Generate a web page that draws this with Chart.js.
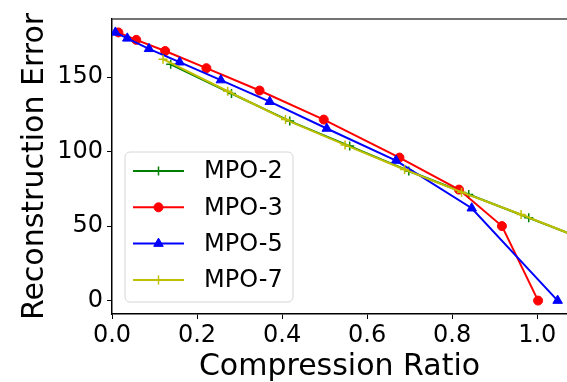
<!DOCTYPE html>
<html>
<head>
<meta charset="utf-8">
<script src="https://cdn.jsdelivr.net/npm/chart.js@4/dist/chart.umd.min.js"></script>
<style>
    body { margin: 0; background: #fff; }
    #wrap { width: 567px; height: 382px; position: relative; }
</style>
</head>
<body>
<div id="wrap"><canvas id="errChart"></canvas></div>
<script>
// Values
const mpo2X = [0.138, 0.281, 0.418, 0.559, 0.698, 0.839, 0.980, 1.120];
const mpo2Y = [158.6, 139.0, 120.5, 103.7, 87.0, 71.2, 55.6, 40.0];

const mpo3X = [0.015, 0.057, 0.125, 0.222, 0.347, 0.498, 0.676, 0.816, 0.917, 1.002];
const mpo3Y = [180, 175, 167.5, 156, 141, 121.5, 96, 74.5, 50, 0];

const mpo5X = [0.008, 0.036, 0.087, 0.159, 0.256, 0.371, 0.505, 0.668, 0.846, 1.048];
const mpo5Y = [180, 176, 169, 160, 148, 133.5, 115.5, 94, 62, 0];

const mpo7X = [0.120, 0.272, 0.408, 0.548, 0.688, 0.822, 0.962, 1.102];
const mpo7Y = [162.0, 140.5, 121.5, 104.5, 88.0, 72.8, 57.8, 42.0];

const xTicks = [0.0, 0.2, 0.4, 0.6, 0.8, 1.0];
const yTicks = [0, 50, 100, 150];

const FONT = 'DejaVu Sans';

function pairs(xs, ys) {
    return xs.map((x, i) => ({ x: x, y: ys[i] }));
}

// order: lower number is drawn on top, like matplotlib's last-plotted-on-top
function series(label, xs, ys, color, style, radius, order) {
    return {
        label: label,
        data: pairs(xs, ys),
        borderColor: color,
        backgroundColor: color,
        borderWidth: 2,
        pointStyle: style,
        pointRadius: radius,
        pointBorderWidth: style === 'cross' ? 1.5 : 1,
        pointHoverRadius: radius,
        tension: 0,
        order: order
    };
}

// matplotlib-like legend drawn inside the plot area
const innerLegend = {
    id: 'innerLegend',
    afterDatasetsDraw(chart) {
        const ctx = chart.ctx;
        const x0 = 125, y0 = 152, w = 168, h = 150;
        ctx.save();
        ctx.beginPath();
        ctx.roundRect(x0, y0, w, h, 5);
        ctx.fillStyle = 'rgba(255,255,255,0.85)';
        ctx.fill();
        ctx.strokeStyle = '#d6d6d6';
        ctx.lineWidth = 1;
        ctx.stroke();

        ctx.font = '24px "' + FONT + '"';
        ctx.textBaseline = 'middle';
        chart.data.datasets.forEach((ds, i) => {
            const cy = y0 + 19 + i * 36.3;
            ctx.strokeStyle = ds.borderColor;
            ctx.fillStyle = ds.backgroundColor;
            ctx.lineWidth = 2;
            ctx.beginPath();
            ctx.moveTo(133, cy);
            ctx.lineTo(184, cy);
            ctx.stroke();
            ctx.lineWidth = ds.pointBorderWidth;
            Chart.helpers.drawPoint(ctx, {
                pointStyle: ds.pointStyle,
                radius: ds.pointRadius,
                rotation: 0,
                borderWidth: ds.pointBorderWidth
            }, 158.5, cy);
            ctx.fillStyle = '#000';
            ctx.fillText(ds.label, 204, cy + 1);
        });
        ctx.restore();
    }
};

// top spine of the axes box
const topSpine = {
    id: 'topSpine',
    afterDraw(chart) {
        const a = chart.chartArea;
        const ctx = chart.ctx;
        ctx.save();
        ctx.strokeStyle = '#444';
        ctx.lineWidth = 1.5;
        ctx.beginPath();
        ctx.moveTo(a.left, a.top);
        ctx.lineTo(a.right, a.top);
        ctx.stroke();
        ctx.restore();
    }
};

const ctx = document.getElementById('errChart').getContext('2d');
const chart = new Chart(ctx, {
    type: 'line',
    data: {
        datasets: [
            series('MPO-2', mpo2X, mpo2Y, '#008000', 'cross', 4.5, 4),
            series('MPO-3', mpo3X, mpo3Y, '#ff0000', 'circle', 4.5, 3),
            series('MPO-5', mpo5X, mpo5Y, '#0000ff', 'triangle', 5.5, 2),
            series('MPO-7', mpo7X, mpo7Y, '#bfbf00', 'cross', 4.5, 1)
        ]
    },
    options: {
        responsive: true,
        maintainAspectRatio: false,
        animation: false,
        layout: { autoPadding: false, padding: { top: 19, right: 0, left: 0, bottom: 0 } },
        plugins: {
            legend: { display: false },
            tooltip: { enabled: false }
        },
        scales: {
            x: {
                type: 'linear',
                min: 0,
                max: 1.07,
                afterFit(scale) {
                    scale.height = 68;
                    scale.paddingLeft = 0;
                    scale.paddingRight = 0;
                },
                afterBuildTicks(scale) { scale.ticks = xTicks.map(v => ({ value: v })); },
                grid: { drawOnChartArea: false, drawTicks: true, tickLength: 5, color: '#000' },
                border: { display: true, color: '#000', width: 1.5 },
                ticks: {
                    color: '#000',
                    padding: 2,
                    maxRotation: 0,
                    font: { family: FONT, size: 24 },
                    callback: v => v.toFixed(1)
                },
                title: {
                    display: true,
                    text: 'Compression Ratio',
                    color: '#000',
                    font: { family: FONT, size: 30 },
                    padding: { top: 0, bottom: -3 }
                }
            },
            y: {
                type: 'linear',
                min: -9,
                max: 189,
                afterFit(scale) {
                    scale.width = 112;
                    scale.paddingTop = 0;
                    scale.paddingBottom = 0;
                },
                afterBuildTicks(scale) { scale.ticks = yTicks.map(v => ({ value: v })); },
                grid: { drawOnChartArea: false, drawTicks: true, tickLength: 5, color: '#000' },
                border: { display: true, color: '#000', width: 1.5 },
                ticks: {
                    color: '#000',
                    padding: 4,
                    font: { family: FONT, size: 24 },
                    callback: v => String(v)
                },
                title: {
                    display: true,
                    text: 'Reconstruction Error',
                    color: '#000',
                    font: { family: FONT, size: 30 },
                    padding: { top: 17, bottom: 0 }
                }
            }
        }
    },
    plugins: [innerLegend, topSpine]
});
</script>
</body>
</html>
